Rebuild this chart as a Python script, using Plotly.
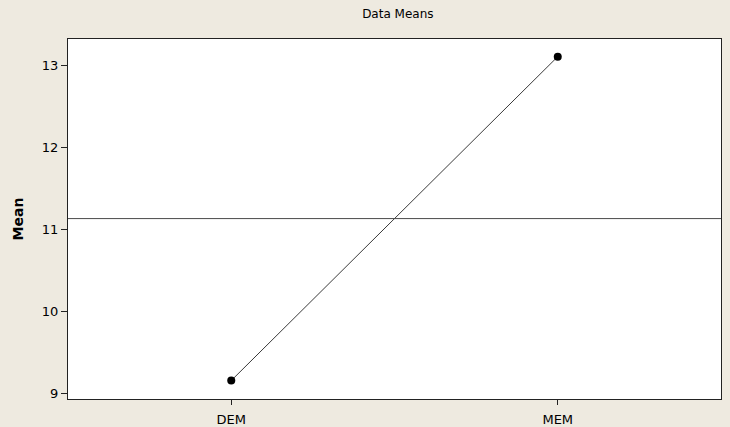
import plotly.graph_objects as go

categories = ["DEM", "MEM"]
means = [9.155, 13.105]
grand_mean = 11.13
y_ticks = [9, 10, 11, 12, 13]

x_pos = [1, 2]

fig = go.Figure()
fig.add_trace(go.Scatter(
    x=x_pos, y=means, mode="lines+markers",
    line=dict(color="#3a3a3a", width=1),
    marker=dict(color="black", size=8, symbol="circle"),
    showlegend=False, hoverinfo="skip",
))
fig.add_shape(type="line", xref="paper", x0=0, x1=1, yref="y", y0=grand_mean, y1=grand_mean,
              line=dict(color="#4a4a4a", width=1))

font = dict(family="DejaVu Sans", size=13, color="black")
fig.update_layout(
    width=730, height=427,
    margin=dict(l=68, r=9, t=39, b=28),
    paper_bgcolor="#EEEAE0", plot_bgcolor="white",
    font=font,
    title=dict(text="Data Means", x=0.545, xanchor="center", y=0.967, yanchor="middle",
               font=dict(family="DejaVu Sans", size=12, color="black")),
    xaxis=dict(range=[0.5, 2.5], tickvals=x_pos, ticktext=categories,
               showgrid=False, zeroline=False, showline=True, mirror=True,
               linecolor="#222", linewidth=1.3, ticks="outside", ticklen=5,
               tickcolor="#222", tickfont=font, automargin=False,
               ticklabelstandoff=3),
    yaxis=dict(range=[8.93, 13.32], tickvals=y_ticks,
               showgrid=False, zeroline=False, showline=True, mirror=True,
               linecolor="#222", linewidth=1.3, ticks="outside", ticklen=6,
               tickcolor="#222", tickfont=font, automargin=False,
               title=dict(text="<b>Mean</b>", standoff=14,
                          font=dict(family="DejaVu Sans", size=14, color="black"))),
)
fig.write_html("out.html", config={"displayModeBar": False},
               post_script="document.body.style.margin='0';")
